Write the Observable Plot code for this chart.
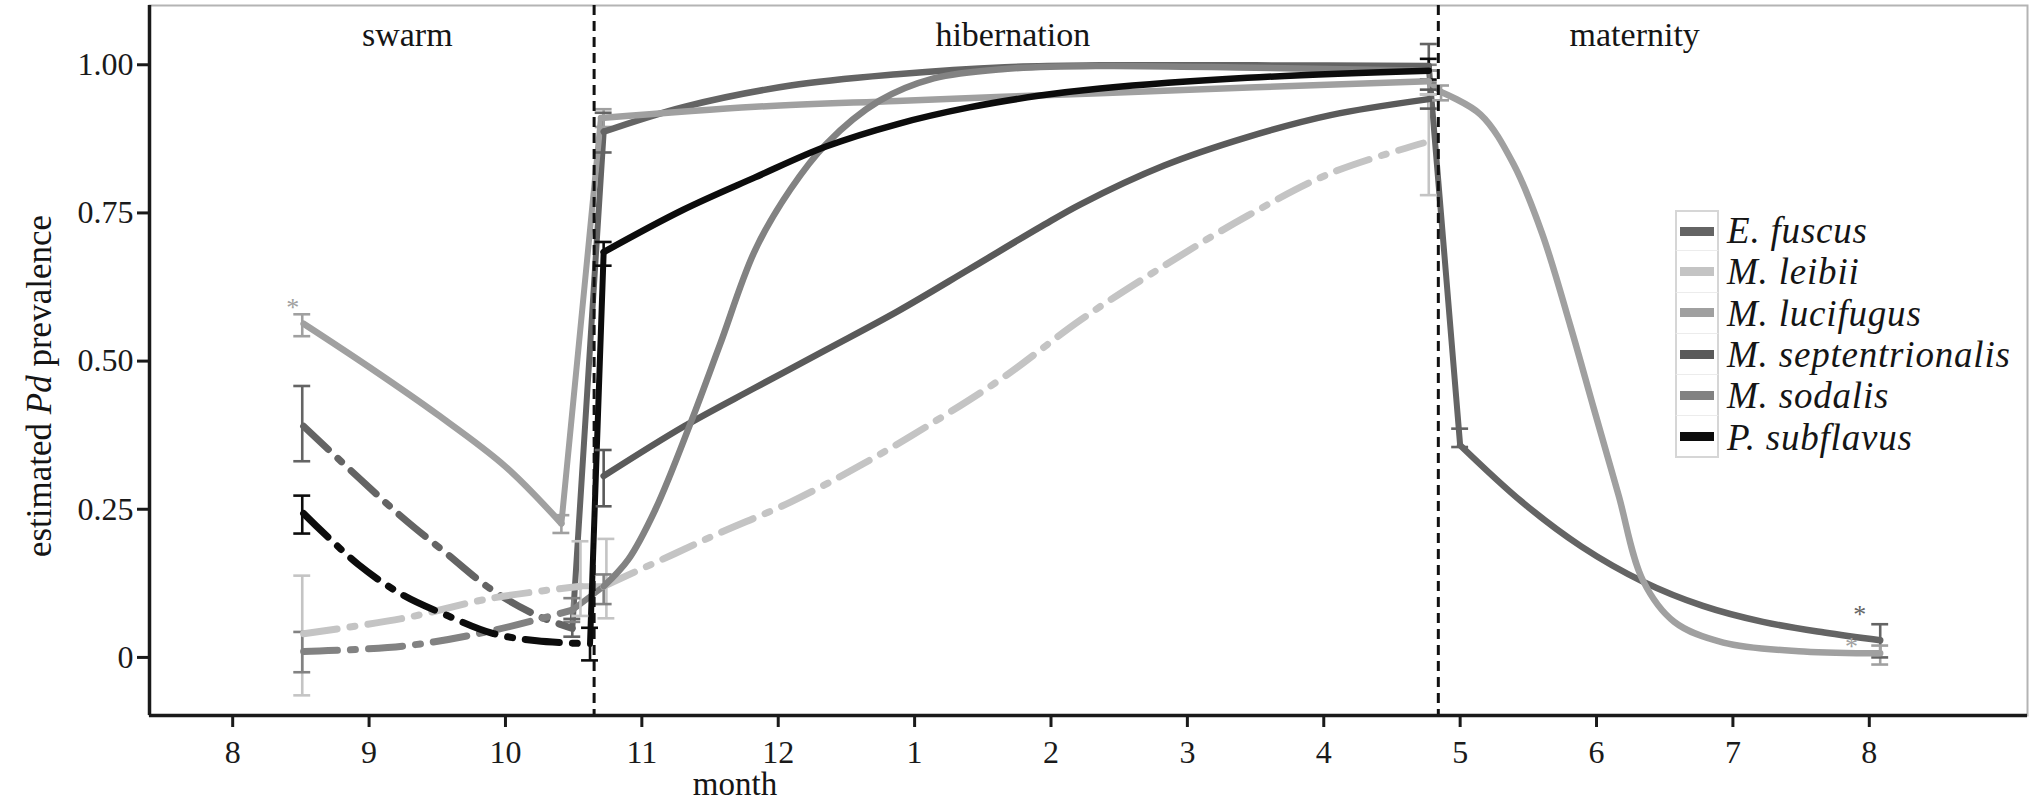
<!DOCTYPE html>
<html>
<head>
<meta charset="utf-8">
<script src="https://cdn.jsdelivr.net/npm/d3@7"></script>
<script src="https://cdn.jsdelivr.net/npm/@observablehq/plot@0.6"></script>
<style>
  html, body { margin: 0; padding: 0; background: #fff; }
  #wrap { position: relative; width: 2032px; height: 804px; font-family: "Liberation Serif", "DejaVu Serif", serif; color: #151515; }
  #legend { position: absolute; left: 1675px; top: 210px; }
  .lrow { display: flex; align-items: center; height: 41.3px; }
  .lkey { width: 44px; height: 41.3px; box-sizing: border-box; border-left: 2px solid #d6d6d6; border-right: 2px solid #d6d6d6; border-bottom: 1px solid #ececec; display: flex; align-items: center; justify-content: center; }
  .lrow:first-child .lkey { border-top: 2px solid #d6d6d6; }
  .lrow:last-child .lkey { border-bottom: 2px solid #d6d6d6; }
  .lsw { width: 34px; height: 9px; }
  .ltxt { margin-left: 8px; font-style: italic; font-size: 37px; letter-spacing: 0.8px; line-height: 1; white-space: nowrap; font-family: "Liberation Serif", "DejaVu Serif", serif; }
</style>
</head>
<body>
<div id="wrap"><div id="legend"></div></div>
<script>
// ---------- data (x = months since 1 August; y = estimated Pd prevalence) ----------
const species = ["E. fuscus", "M. leibii", "M. lucifugus", "M. septentrionalis", "M. sodalis", "P. subflavus"];
const speciesColors = ["#646464", "#c4c4c4", "#a0a0a0", "#5a5a5a", "#828282", "#0c0c0c"];

const monthTicks = [0, 1, 2, 3, 4, 5, 6, 7, 8, 9, 10, 11, 12];
const monthLabels = ["8", "9", "10", "11", "12", "1", "2", "3", "4", "5", "6", "7", "8"];
const yTicks = [0, 0.25, 0.5, 0.75, 1];

const seasonNames = ["swarm", "hibernation", "maternity"];
const seasonLabelX = [1.28, 5.72, 10.28];
const seasonBreaks = [2.65, 8.84];

// E. fuscus
const fuscusSwarm = [[0.52, 0.39], [0.92, 0.304], [1.25, 0.235], [1.57, 0.175], [1.90, 0.114], [2.23, 0.071], [2.49, 0.049]];
const fuscusHibernation = [[2.72, 0.887], [3.31, 0.929], [4.09, 0.965], [4.87, 0.984], [5.66, 0.996], [6.36, 0.999], [7.5, 0.999], [8.77, 0.998]];
const fuscusMaternity = [[9.0, 0.358], [9.45, 0.263], [9.89, 0.187], [10.34, 0.128], [10.78, 0.087], [11.22, 0.06], [11.67, 0.042], [12.08, 0.029]];
// M. leibii
const leibiiSwarm = [[0.52, 0.04], [1.25, 0.066], [1.90, 0.10], [2.55, 0.12]];
const leibiiHibernation = [[2.72, 0.12], [3.24, 0.175], [3.57, 0.21], [4.09, 0.262], [4.61, 0.325], [5.14, 0.397], [5.66, 0.474], [6.22, 0.57], [6.83, 0.661], [7.44, 0.745], [8.05, 0.817], [8.73, 0.868]];
// M. lucifugus
const lucifugusSwarm = [[0.52, 0.563], [1.0, 0.49], [1.5, 0.41], [2.0, 0.322], [2.41, 0.226]];
const lucifugusHibernation = [[2.70, 0.91], [3.83, 0.929], [4.87, 0.939], [6.36, 0.952], [7.5, 0.962], [8.77, 0.972]];
const lucifugusMaternity = [[8.86, 0.954], [9.15, 0.916], [9.39, 0.833], [9.60, 0.716], [9.81, 0.558], [9.98, 0.42], [10.16, 0.275], [10.34, 0.13], [10.57, 0.06], [10.93, 0.025], [11.52, 0.01], [12.08, 0.007]];
// M. septentrionalis
const septentrionalisHibernation = [[2.72, 0.306], [3.31, 0.39], [3.83, 0.455], [4.35, 0.519], [4.875, 0.584], [5.40, 0.655], [5.92, 0.726], [6.22, 0.765], [6.83, 0.83], [7.44, 0.878], [8.05, 0.915], [8.77, 0.942]];
// M. sodalis
const sodalisSwarm = [[0.52, 0.01], [1.25, 0.019], [1.90, 0.045], [2.49, 0.08]];
const sodalisHibernation = [[2.72, 0.12], [2.90, 0.165], [3.10, 0.25], [3.36, 0.397], [3.57, 0.526], [3.83, 0.687], [4.09, 0.79], [4.35, 0.866], [4.74, 0.939], [5.14, 0.977], [5.66, 0.993], [6.36, 0.998], [7.5, 0.995], [8.77, 0.99]];
// P. subflavus
const subflavusSwarm = [[0.52, 0.243], [0.92, 0.157], [1.25, 0.105], [1.57, 0.071], [1.90, 0.041], [2.23, 0.028], [2.62, 0.023]];
const subflavusHibernation = [[2.72, 0.684], [3.30, 0.755], [3.83, 0.81], [4.35, 0.862], [4.875, 0.90], [5.40, 0.928], [5.92, 0.948], [6.36, 0.96], [7.44, 0.978], [8.77, 0.99]];

// error bars: [species index, month, lower, upper]
const errorBars = [
  [2, 0.51, 0.542, 0.579], [0, 0.51, 0.331, 0.458], [5, 0.51, 0.209, 0.273], [1, 0.51, -0.064, 0.138], [4, 0.51, -0.025, 0.043],
  [2, 2.41, 0.21, 0.24], [0, 2.49, 0.035, 0.065], [4, 2.49, 0.06, 0.10], [1, 2.55, 0.07, 0.196], [5, 2.62, -0.005, 0.05],
  [0, 2.72, 0.852, 0.919], [2, 2.72, 0.895, 0.925], [5, 2.72, 0.661, 0.701], [3, 2.72, 0.255, 0.35], [1, 2.74, 0.066, 0.20], [4, 2.72, 0.09, 0.14],
  [0, 8.77, 0.99, 1.035], [5, 8.77, 0.975, 1.01], [2, 8.77, 0.95, 0.99], [3, 8.77, 0.926, 0.958], [1, 8.77, 0.78, 0.95], [4, 8.77, 0.97, 1.0],
  [0, 9.0, 0.355, 0.386], [2, 8.86, 0.94, 0.965], [0, 12.08, 0.0, 0.056], [2, 12.08, -0.012, 0.02]
];
// asterisks: [species index, month, value]
const asterisks = [[2, 0.44, 0.59], [0, 11.93, 0.072], [2, 11.87, 0.018]];

// ---------- build tables ----------
const speciesSegments = [
  {sp: 0, segs: [{style: "dotdash", pts: fuscusSwarm}, {style: "solid", pts: fuscusHibernation}, {style: "solid", pts: fuscusMaternity}]},
  {sp: 1, segs: [{style: "dotdash", pts: leibiiSwarm}, {style: "dotdash", pts: leibiiHibernation}]},
  {sp: 2, segs: [{style: "solid", pts: lucifugusSwarm}, {style: "solid", pts: lucifugusHibernation}, {style: "solid", pts: lucifugusMaternity}]},
  {sp: 3, segs: [{style: "solid", pts: septentrionalisHibernation}]},
  {sp: 4, segs: [{style: "dotdash", pts: sodalisSwarm}, {style: "solid", pts: sodalisHibernation}]},
  {sp: 5, segs: [{style: "dotdash", pts: subflavusSwarm}, {style: "solid", pts: subflavusHibernation}]}
];
const lineRows = [];
const connectorRows = [];
speciesSegments.forEach(({sp, segs}) => {
  segs.forEach((s, k) => {
    s.pts.forEach(([x, y]) => lineRows.push({species: species[sp], seg: sp + "-" + k, style: s.style, x, y}));
    if (k > 0) {
      const a = segs[k - 1].pts[segs[k - 1].pts.length - 1], b = s.pts[0];
      connectorRows.push({species: species[sp], seg: sp + "-c" + k, x: a[0], y: a[1]});
      connectorRows.push({species: species[sp], seg: sp + "-c" + k, x: b[0], y: b[1]});
    }
  });
});
const bars = errorBars.map(([s, x, lo, hi]) => ({species: species[s], x, lo, hi}));
const capHalf = 0.062;
const caps = bars.flatMap(b => [
  {species: b.species, y: b.lo, x1: b.x - capHalf, x2: b.x + capHalf},
  {species: b.species, y: b.hi, x1: b.x - capHalf, x2: b.x + capHalf}
]);
const stars = asterisks.map(([s, x, y]) => ({species: species[s], x, y}));
const seasons = seasonNames.map((name, i) => ({name, x: seasonLabelX[i]}));

const xDomain = [-0.61, 13.16];
const yDomain = [-0.098, 1.10];
const serif = "Liberation Serif, DejaVu Serif, serif";

const chart = Plot.plot({
  width: 2032,
  height: 804,
  marginLeft: 149,
  marginRight: 5,
  marginTop: 5,
  marginBottom: 89,
  style: "font-family: 'Liberation Serif', 'DejaVu Serif', serif; font-size: 32px; color: #1a1a1a; background: #fff;",
  x: {domain: xDomain, label: null},
  y: {domain: yDomain, label: null},
  color: {domain: species, range: speciesColors},
  marks: [
    Plot.frame({stroke: "#b4b4b4", strokeWidth: 2}),
    Plot.line(connectorRows, {x: "x", y: "y", z: "seg", stroke: "species", strokeWidth: 6}),
    Plot.ruleX(bars, {x: "x", y1: "lo", y2: "hi", stroke: "species", strokeWidth: 2.6}),
    Plot.ruleY(caps, {y: "y", x1: "x1", x2: "x2", stroke: "species", strokeWidth: 2.6}),
    Plot.line(lineRows.filter(d => d.style === "dotdash"), {x: "x", y: "y", z: "seg", stroke: "species", strokeWidth: 7, strokeDasharray: "34,13,5,13", curve: "catmull-rom"}),
    Plot.line(lineRows.filter(d => d.style === "solid"), {x: "x", y: "y", z: "seg", stroke: "species", strokeWidth: 6.5, curve: "catmull-rom"}),
    Plot.ruleX(seasonBreaks, {stroke: "#111", strokeWidth: 3, strokeDasharray: "10,6"}),
    Plot.text(stars, {x: "x", y: "y", text: () => "*", fill: "species", fontSize: 26, fontFamily: serif}),
    Plot.text(seasons, {x: "x", y: 1.05, text: "name", fontSize: 34, fill: "#151515", fontFamily: serif}),
    Plot.ruleX([xDomain[0]], {stroke: "#1a1a1a", strokeWidth: 3.5}),
    Plot.ruleY([yDomain[0]], {stroke: "#1a1a1a", strokeWidth: 3.5}),
    Plot.axisX({ticks: monthTicks, tickFormat: d => monthLabels[monthTicks.indexOf(d)], tickSize: 12, tickPadding: 13, strokeWidth: 3, label: null, fontSize: 32, fontFamily: serif}),
    Plot.axisY({ticks: yTicks, tickFormat: d => d === 0 ? "0" : d.toFixed(2), tickSize: 12, tickPadding: 4, strokeWidth: 3, label: null, fontSize: 32, fontFamily: serif})
  ]
});

document.getElementById("wrap").appendChild(chart);

// axis titles (mixed italic)
const svg = d3.select(chart);
const yt = svg.append("text")
  .attr("transform", "translate(39,386) rotate(-90)")
  .attr("text-anchor", "middle")
  .attr("dominant-baseline", "central")
  .attr("font-size", 35)
  .attr("font-family", serif)
  .attr("fill", "#151515");
yt.append("tspan").text("estimated ");
yt.append("tspan").attr("font-style", "italic").text("Pd");
yt.append("tspan").text(" prevalence");
svg.append("text")
  .attr("x", 735).attr("y", 784)
  .attr("text-anchor", "middle")
  .attr("dominant-baseline", "central")
  .attr("font-size", 33)
  .attr("font-family", serif)
  .attr("fill", "#151515")
  .text("month");

// legend
const legend = d3.select("#legend");
species.forEach((s, i) => {
  const row = legend.append("div").attr("class", "lrow");
  row.append("div").attr("class", "lkey").append("div").attr("class", "lsw").style("background", speciesColors[i]);
  row.append("div").attr("class", "ltxt").text(s);
});
</script>
</body>
</html>
